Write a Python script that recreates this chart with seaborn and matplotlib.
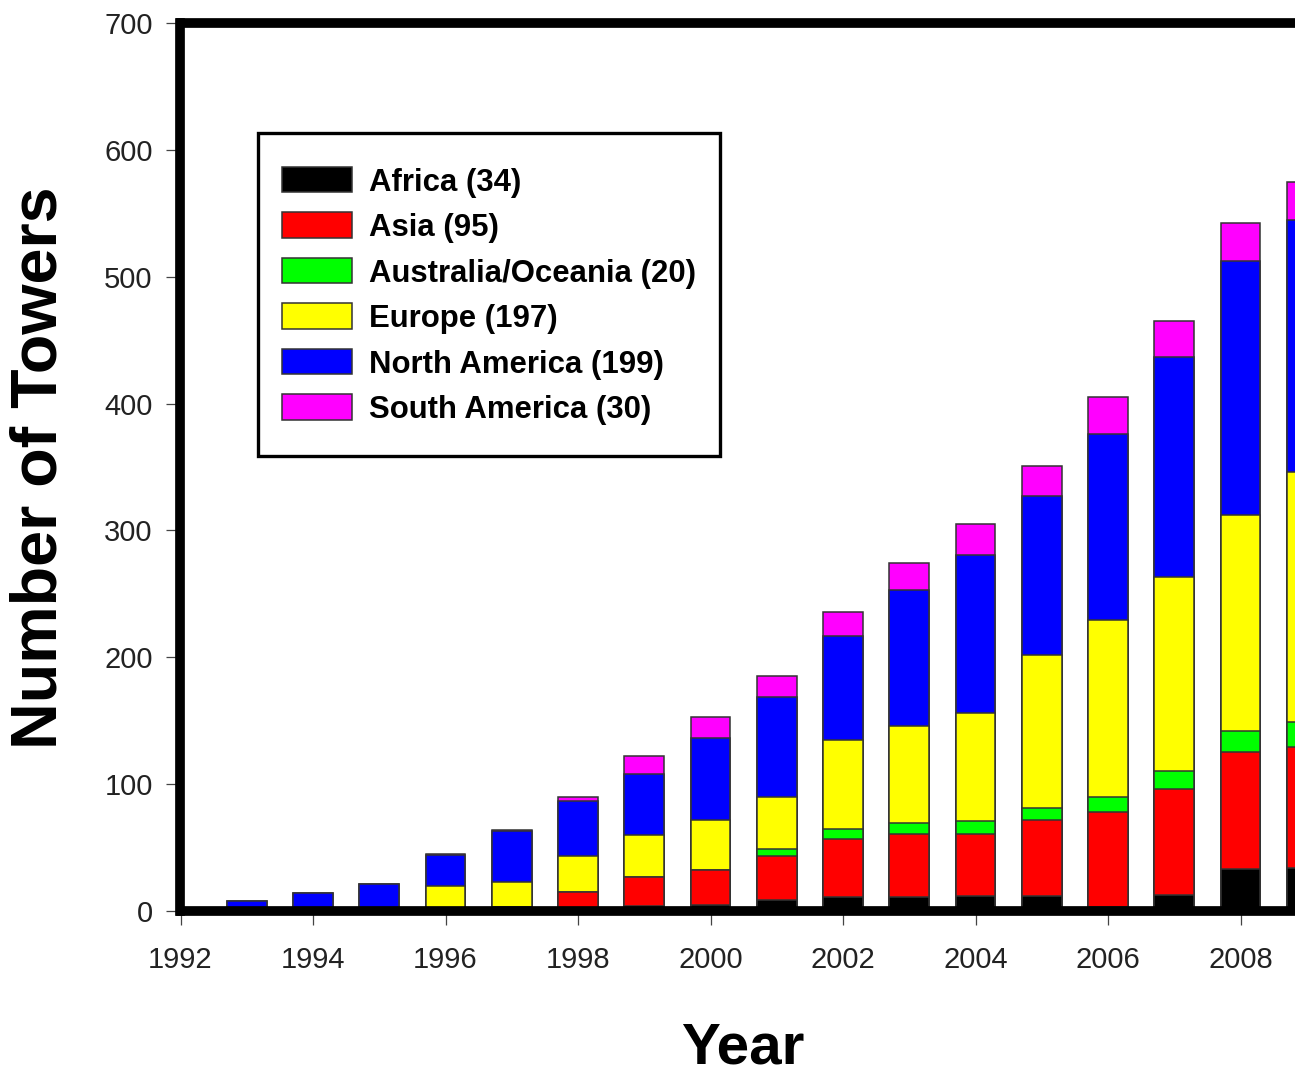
import numpy as np
import pandas as pd
import matplotlib
matplotlib.use('Agg')
import matplotlib.pyplot as plt
from matplotlib.patches import Patch, Rectangle
from matplotlib.legend_handler import HandlerPatch
import seaborn as sns

# ── Data ──────────────────────────────────────────────────────────────────
years         = [1993, 1994, 1995, 1996, 1997, 1998, 1999, 2000, 2001,
                 2002, 2003, 2004, 2005, 2006, 2007, 2008, 2009]
africa        = [0, 0, 0, 0, 1, 2, 4, 5, 9, 11, 11, 12, 12, 3, 13, 33, 34]
asia          = [0, 0, 0, 0, 2, 13, 23, 27, 34, 46, 50, 49, 60, 75, 83, 92, 95]
australia     = [0, 0, 0, 0, 0, 0, 0, 0, 6, 8, 8, 10, 9, 12, 14, 17, 20]
europe        = [0, 0, 0, 20, 20, 28, 33, 40, 41, 70, 77, 85, 121, 139, 153, 170, 197]
north_america = [8, 14, 21, 24, 40, 44, 48, 64, 79, 82, 107, 125, 125, 147, 174, 200, 199]
south_america = [0, 0, 0, 1, 1, 3, 14, 17, 16, 19, 21, 24, 24, 29, 28, 30, 30]

regions = ['Africa (34)', 'Asia (95)', 'Australia/Oceania (20)',
           'Europe (197)', 'North America (199)', 'South America (30)']
COLORS  = ['#000000', '#FF0000', '#00FF00', '#FFFF00', '#0000FF', '#FF00FF']
x_ticks = [1992, 1994, 1996, 1998, 2000, 2002, 2004, 2006, 2008]
y_ticks = [0, 100, 200, 300, 400, 500, 600, 700]

# ── Styling ───────────────────────────────────────────────────────────────
sns.set_theme(style='white')
plt.rcParams['font.family'] = ['Liberation Sans', 'DejaVu Sans']

W, H = 1295, 1075
fig = plt.figure(figsize=(W / 100, H / 100), dpi=100)
fig.patch.set_facecolor('white')

# axes: x=1992 at px 180.5, 66.25 px per year; y=0 at px 911, y=700 at px 23
ax = fig.add_axes([180.5 / W, (H - 911) / H, 18 * 66.25 / W, 888 / H])
ax.set_facecolor('white')

series = np.array([africa, asia, australia, europe, north_america, south_america])
cum = series.cumsum(axis=0)

# stacked bars: draw the tallest cumulative first, lower ones on top
for i in range(len(regions) - 1, -1, -1):
    df = pd.DataFrame({'Year': years, 'Towers': cum[i]})
    sns.barplot(data=df, x='Year', y='Towers', native_scale=True, width=0.6,
                color=COLORS[i], saturation=1, edgecolor='#333333',
                linewidth=1.1, errorbar=None, ax=ax)

ax.set_xlim(1992, 2010)
ax.set_ylim(0, 700)
ax.set_xticks(x_ticks)
ax.set_yticks(y_ticks)
ax.set_xlabel('')
ax.set_ylabel('')

for sp in ax.spines.values():
    sp.set_visible(True)
    sp.set_linewidth(7)
    sp.set_color('black')

ax.tick_params(axis='both', which='major', direction='out', length=10,
               width=0.9, color='#444444', labelsize=21, labelcolor='#222222')
ax.tick_params(axis='x', pad=15.5)
ax.tick_params(axis='y', pad=10)
ax.tick_params(bottom=True, left=True, top=False, right=False)

fig.text(40 / W, 1 - 468 / H, 'Number of Towers', rotation=90,
         ha='center', va='center', fontsize=46.5, fontweight='bold', color='black')
fig.text(743 / W, 0.0, 'Year', ha='center', va='bottom',
         fontsize=42, fontweight='bold', color='black')


# ── Legend: tall rows, slimmer colour swatches ─────────────────────────────
def swatch(legend, orig_handle, xdescent, ydescent, width, height, fontsize):
    h = 0.82 * fontsize
    return Rectangle((-xdescent, 0.36 * fontsize - h / 2), width, h)


handles = [Patch(facecolor=c, edgecolor='#333333', linewidth=1.1) for c in COLORS]
leg = ax.legend(handles, regions, loc='upper left',
                bbox_to_anchor=(258 / W, 1 - 133 / H), bbox_transform=fig.transFigure,
                borderaxespad=0, frameon=True, fancybox=False, shadow=False,
                prop={'size': 22.4, 'weight': 'bold'}, handlelength=2.25,
                handleheight=2.0, handletextpad=0.57, labelspacing=-0.08,
                borderpad=0.76, labelcolor='black',
                handler_map={Patch: HandlerPatch(patch_func=swatch)})
leg.get_frame().set_edgecolor('black')
leg.get_frame().set_linewidth(2.4)
leg.get_frame().set_facecolor('white')
leg.get_frame().set_alpha(1)

plt.savefig('out.png', dpi=100)
plt.close()
